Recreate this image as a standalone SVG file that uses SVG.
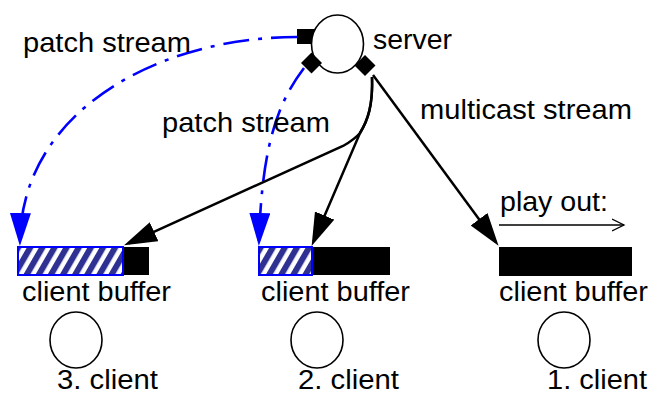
<svg xmlns="http://www.w3.org/2000/svg" width="661" height="395" viewBox="0 0 661 395">
  <style>
    text { font-family: "Liberation Sans", Arial, sans-serif; font-size: 27.5px; fill: #000; }
    .node { fill: #fff; stroke: #000; stroke-width: 1.6; }
    .blk { fill: #000; }
    .hatch { fill: url(#stripes); stroke: #0000ff; stroke-width: 2; }
    .conn { fill: none; stroke: #000; stroke-width: 2.5; }
    .patch { fill: none; stroke: #0000ff; stroke-width: 2.6; stroke-dasharray: 26 9 4 9; }
  </style>
  <defs>
    <pattern id="stripes" patternUnits="userSpaceOnUse" width="10.5" height="10.5" patternTransform="rotate(30)">
      <rect x="0" y="0" width="10.5" height="10.5" fill="#fff"/>
      <rect x="0" y="0" width="6" height="10.5" fill="#2e3192"/>
    </pattern>
    <marker id="ahB" markerUnits="userSpaceOnUse" markerWidth="33" markerHeight="21" refX="28" refY="10.5" orient="auto" viewBox="0 0 33 21">
      <path d="M0,0 L33,10.5 L0,21 z" fill="#000"/>
    </marker>
    <marker id="ahU" markerUnits="userSpaceOnUse" markerWidth="33" markerHeight="21" refX="28" refY="10.5" orient="auto" viewBox="0 0 33 21">
      <path d="M0,0 L33,10.5 L0,21 z" fill="#0000ff"/>
    </marker>
    <marker id="open" markerUnits="userSpaceOnUse" markerWidth="14" markerHeight="14" refX="12" refY="7" orient="auto" viewBox="0 0 14 14">
      <path d="M0,1 L12,7 L0,13" fill="none" stroke="#000" stroke-width="1.3"/>
    </marker>
  </defs>

  <g id="connectors">
    <path class="patch" d="M297,37 C160,37 22,110 20,241" marker-end="url(#ahU)"/>
    <path class="patch" d="M304,68 C280,100 262,140 259,241" marker-end="url(#ahU)"/>
    <path class="conn" d="M372,77 C373,105 368,120 360,133 C355,139 350,142 343,146 L128.6,243.3" marker-end="url(#ahB)"/>
    <path class="conn" d="M372,77 C373,105 368,120 360,133 L313.6,241.3" marker-end="url(#ahB)"/>
    <path class="conn" d="M373,75 L495.6,241.8" marker-end="url(#ahB)"/>
    <path d="M499,225 L624,225" fill="none" stroke="#000" stroke-width="1.3" marker-end="url(#open)"/>
  </g>

  <g id="server">
    <rect class="blk" x="297" y="29" width="18" height="15"/>
    <ellipse class="node" cx="337.5" cy="44" rx="26" ry="29"/>
    <polygon class="blk" points="301,63 311.5,52.5 322,63 311.5,73.5"/>
    <polygon class="blk" points="354.5,65.5 365,55 375.5,65.5 365,76"/>
    <text x="373" y="49" textLength="79" lengthAdjust="spacingAndGlyphs">server</text>
  </g>

  <g id="labels">
    <text x="23" y="52" textLength="168" lengthAdjust="spacingAndGlyphs">patch stream</text>
    <text x="162" y="132" textLength="168" lengthAdjust="spacingAndGlyphs">patch stream</text>
    <text x="420" y="119" textLength="212" lengthAdjust="spacingAndGlyphs">multicast stream</text>
    <text x="500" y="211" textLength="108" lengthAdjust="spacingAndGlyphs">play out:</text>
  </g>

  <g id="buffer3">
    <rect class="blk" x="123" y="247" width="26" height="28"/>
    <rect class="hatch" x="18" y="247" width="105" height="28"/>
    <text x="22" y="301" textLength="149" lengthAdjust="spacingAndGlyphs">client buffer</text>
  </g>
  <g id="buffer2">
    <rect class="blk" x="312" y="247" width="78" height="28"/>
    <rect class="hatch" x="259" y="247" width="53" height="28"/>
    <text x="261" y="301" textLength="149" lengthAdjust="spacingAndGlyphs">client buffer</text>
  </g>
  <g id="buffer1">
    <rect class="blk" x="499" y="247" width="133" height="29"/>
    <text x="499" y="301" textLength="149" lengthAdjust="spacingAndGlyphs">client buffer</text>
  </g>

  <g id="client3">
    <ellipse class="node" cx="76" cy="340" rx="26" ry="28"/>
    <text x="57" y="389" textLength="101" lengthAdjust="spacingAndGlyphs">3. client</text>
  </g>
  <g id="client2">
    <ellipse class="node" cx="317" cy="340" rx="26" ry="28"/>
    <text x="298" y="389" textLength="101" lengthAdjust="spacingAndGlyphs">2. client</text>
  </g>
  <g id="client1">
    <ellipse class="node" cx="564" cy="340" rx="26" ry="28"/>
    <text x="547" y="389" textLength="100" lengthAdjust="spacingAndGlyphs">1. client</text>
  </g>
</svg>
